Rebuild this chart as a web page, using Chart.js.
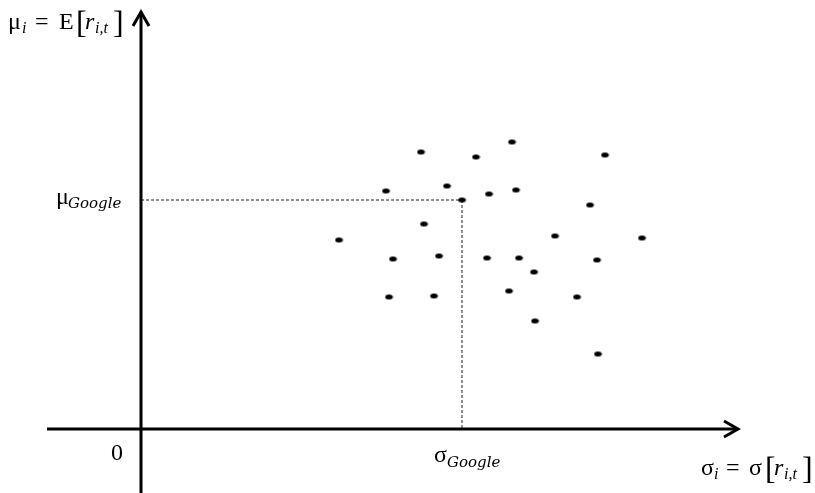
<!DOCTYPE html>
<html>
<head>
<meta charset="utf-8">
<script src="https://cdn.jsdelivr.net/npm/chart.js@4.4.1/dist/chart.umd.min.js"></script>
<style>
  html, body { margin: 0; padding: 0; background: #ffffff; }
  #wrap { width: 815px; height: 493px; position: relative; }
</style>
</head>
<body>
<div id="wrap"><canvas id="chart" width="815" height="493"></canvas></div>
<script>
// Risk (sigma) and expected return (mu) of each stock, in %
const sigmaValues = [2.80, 3.35, 3.71, 4.64, 2.45, 3.06, 3.48, 3.75, 4.49, 2.83, 4.14, 5.01, 1.98,
                     2.52, 2.98, 3.46, 3.78, 4.56, 3.93, 2.48, 2.93, 3.68, 4.36, 3.94, 4.57];
const muValues    = [2.77, 2.72, 2.87, 2.74, 2.38, 2.43, 2.35, 2.39, 2.24, 2.05, 1.93, 1.91, 1.89,
                     1.70, 1.73, 1.71, 1.71, 1.69, 1.57, 1.32, 1.33, 1.38, 1.32, 1.08, 0.75];
// Highlighted stock
const googleSigma = 3.21;
const googleMu = 2.29;

// Axis extents (data units)
const xRange = [-1.41, 6.74];
const yRange = [-0.64, 4.29];
const xAxisStart = -0.94, xAxisTip = 5.98;
const yAxisTip = 4.18;

// small flattened dot used as point marker
function makeDot() {
  const c = document.createElement('canvas');
  c.width = 9; c.height = 7;
  const g = c.getContext('2d');
  g.fillStyle = '#000';
  g.beginPath();
  g.ellipse(4.5, 3.5, 3.8, 2.5, 0, 0, Math.PI * 2);
  g.fill();
  return c;
}
const dot = makeDot();

const allPoints = sigmaValues.map((s, i) => ({ x: s, y: muValues[i] }));
allPoints.push({ x: googleSigma, y: googleMu });

const SERIF = '"Liberation Serif", "DejaVu Serif", serif';

// draw text runs, each at its own x offset from the label start
function drawRuns(ctx, x, baseline, runs) {
  for (const r of runs) {
    ctx.font = r.font;
    ctx.fillText(r.t, x + r.x, baseline + (r.dy || 0));
  }
}

const axesPlugin = {
  id: 'axesAndLabels',
  beforeDatasetsDraw(chart) {
    const ctx = chart.ctx;
    const xs = chart.scales.x, ys = chart.scales.y;
    const ox = xs.getPixelForValue(0), oy = ys.getPixelForValue(0);
    const gx = xs.getPixelForValue(googleSigma), gy = ys.getPixelForValue(googleMu);
    ctx.save();

    // guide lines to the highlighted stock
    ctx.strokeStyle = '#6a6a6a';
    ctx.lineWidth = 1.5;
    ctx.setLineDash([3, 2]);
    ctx.beginPath();
    ctx.moveTo(ox, gy); ctx.lineTo(gx, gy);
    ctx.moveTo(gx, gy); ctx.lineTo(gx, oy);
    ctx.stroke();
    ctx.setLineDash([]);

    // axes
    ctx.strokeStyle = '#000';
    ctx.lineWidth = 3;
    ctx.lineCap = 'butt';
    const xTip = xs.getPixelForValue(xAxisTip);
    const yTip = ys.getPixelForValue(yAxisTip);
    ctx.beginPath();
    ctx.moveTo(xs.getPixelForValue(xAxisStart), oy); ctx.lineTo(xTip - 1, oy);
    ctx.moveTo(ox, ys.getPixelForValue(yRange[0])); ctx.lineTo(ox, yTip + 1);
    ctx.stroke();

    // arrow heads
    ctx.lineJoin = 'miter';
    ctx.beginPath();
    ctx.moveTo(xTip - 15, oy - 8); ctx.lineTo(xTip - 1, oy); ctx.lineTo(xTip - 15, oy + 8);
    ctx.moveTo(ox - 8, yTip + 15); ctx.lineTo(ox, yTip + 1); ctx.lineTo(ox + 8, yTip + 15);
    ctx.stroke();

    // labels
    ctx.fillStyle = '#000';
    ctx.textBaseline = 'alphabetic';
    const big = '24px ' + SERIF;
    const ital = 'italic 24px ' + SERIF;
    const sub = 'italic 16px ' + SERIF;
    const brk = '32px ' + SERIF;
    const subG = 'italic 15px "DejaVu Serif", serif';

    drawRuns(ctx, 8, 29, [
      { t: 'μ', font: big, x: 0 }, { t: 'i', font: sub, x: 14, dy: 4 },
      { t: '=', font: big, x: 27 }, { t: 'E', font: big, x: 51 },
      { t: '[', font: brk, x: 68, dy: 4 }, { t: 'r', font: ital, x: 77 },
      { t: 'i,t', font: sub, x: 87, dy: 4 }, { t: ']', font: brk, x: 105, dy: 4 }
    ]);

    drawRuns(ctx, 56, gy + 4, [
      { t: 'μ', font: big, x: 0 }, { t: 'Google', font: subG, x: 12, dy: 4 }
    ]);

    ctx.font = big;
    ctx.fillText('0', 111, oy + 31);

    drawRuns(ctx, 434, oy + 33, [
      { t: 'σ', font: big, x: 0 }, { t: 'Google', font: subG, x: 13, dy: 5 }
    ]);

    drawRuns(ctx, 701, oy + 46, [
      { t: 'σ', font: big, x: 0 }, { t: 'i', font: sub, x: 13, dy: 4 },
      { t: '=', font: big, x: 25 }, { t: 'σ', font: big, x: 48 },
      { t: '[', font: brk, x: 64, dy: 4 }, { t: 'r', font: ital, x: 73 },
      { t: 'i,t', font: sub, x: 83, dy: 4 }, { t: ']', font: brk, x: 101, dy: 4 }
    ]);
    ctx.restore();
  }
};

new Chart(document.getElementById('chart'), {
  type: 'scatter',
  data: {
    datasets: [{
      data: allPoints,
      pointStyle: dot,
      pointRadius: 4,
      pointHoverRadius: 4
    }]
  },
  options: {
    responsive: false,
    animation: false,
    events: [],
    layout: { padding: 0, autoPadding: false },
    plugins: { legend: { display: false }, tooltip: { enabled: false } },
    scales: {
      x: { type: 'linear', min: xRange[0], max: xRange[1], display: false },
      y: { type: 'linear', min: yRange[0], max: yRange[1], display: false }
    }
  },
  plugins: [axesPlugin]
});
</script>
</body>
</html>
